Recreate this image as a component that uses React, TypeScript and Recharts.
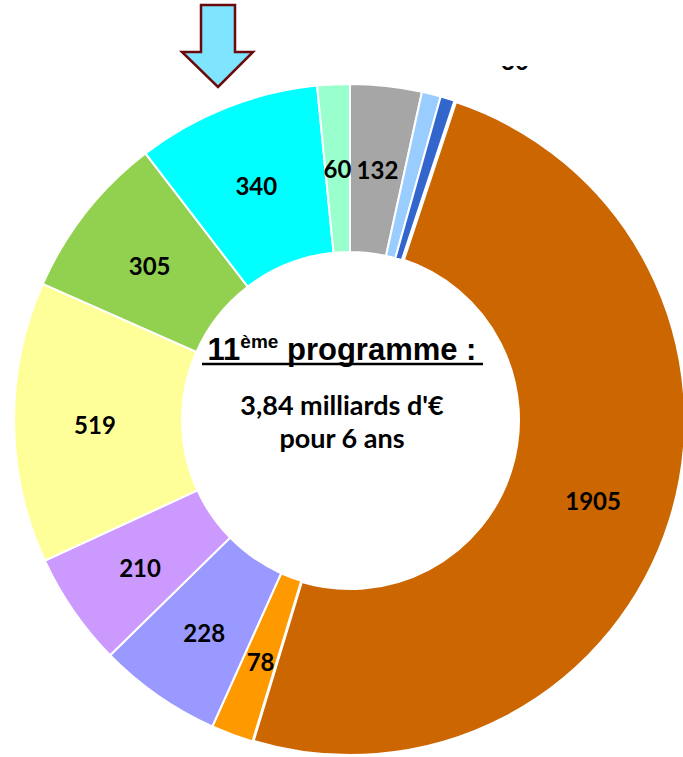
import React from "react";
import { Pie, PieChart, Cell } from "recharts";

const categories = [
  "gris",
  "bleu clair",
  "bleu",
  "marron",
  "orange",
  "pervenche",
  "lavande",
  "jaune",
  "vert",
  "cyan",
  "menthe",
];
const amounts = [132, 35, 28, 1905, 78, 228, 210, 519, 305, 340, 60];
const shownLabels = [true, false, false, true, true, true, true, true, true, true, true];
const colors = [
  "#a6a6a6",
  "#99ccff",
  "#3366cc",
  "#cc6600",
  "#ff9900",
  "#9999ff",
  "#cc99ff",
  "#ffff99",
  "#92d050",
  "#00ffff",
  "#99ffcc",
];

const data = categories.map((name, i) => ({ name, value: amounts[i] }));

const RAD = Math.PI / 180;

const SliceLabel = (props: any) => {
  const { cx, cy, midAngle, innerRadius, outerRadius, value, index } = props;
  if (!shownLabels[index]) return null;
  const r = (innerRadius + outerRadius) / 2 + 3;
  const x = cx + r * Math.cos(-midAngle * RAD);
  const y = cy + r * Math.sin(-midAngle * RAD) + 3;
  return (
    <text
      x={x}
      y={y}
      textAnchor="middle"
      dominantBaseline="central"
      fontFamily="Lato, 'Open Sans', sans-serif"
      fontWeight={700}
      fontSize={24}
      fill="#000"
    >
      {value}
    </text>
  );
};

export default function App() {
  return (
    <div
      style={{
        position: "fixed",
        left: 0,
        top: 0,
        width: 683,
        height: 757,
        overflow: "hidden",
        background: "#fff",
      }}
    >
      <PieChart width={683} height={757} margin={{ top: 0, right: 0, bottom: 0, left: 0 }}>
        <Pie
          data={data}
          dataKey="value"
          cx={350}
          cy={420}
          innerRadius={168}
          outerRadius={336}
          startAngle={90}
          endAngle={-270}
          stroke="#ffffff"
          strokeWidth={2}
          label={SliceLabel}
          labelLine={false}
          isAnimationActive={false}
        >
          {data.map((d, i) => (
            <Cell key={d.name} fill={colors[i]} strokeWidth={i === 3 ? 4 : 2} />
          ))}
        </Pie>
      </PieChart>
      <svg
        width={683}
        height={757}
        style={{ position: "absolute", left: 0, top: 0, pointerEvents: "none" }}
      >
        <defs>
          <clipPath id="cut">
            <rect x={490} y={66} width={50} height={10} />
          </clipPath>
        </defs>
        <text
          x={515}
          y={70}
          textAnchor="middle"
          fontFamily="Lato, 'Open Sans', sans-serif"
          fontWeight={700}
          fontSize={24}
          fill="#000"
          clipPath="url(#cut)"
        >
          30
        </text>
        <polygon
          points="201,5 235,5 235,52 253,52 218,87 182,52 201,52"
          fill="#7fe5ff"
          stroke="#6b0a0a"
          strokeWidth={2.5}
        />
        <text
          x={342}
          y={360}
          textAnchor="middle"
          fontFamily="'Liberation Sans', Arial, sans-serif"
          fontWeight={700}
          fontSize={31}
          fill="#000"
        >
          11
          <tspan fontSize={19} dy={-12}>
            ème
          </tspan>
          <tspan dy={12}> programme :</tspan>
        </text>
        <line x1={202} x2={483} y1={364} y2={364} stroke="#000" strokeWidth={2.5} />
        <text
          x={342}
          y={415}
          textAnchor="middle"
          fontFamily="Lato, 'Open Sans', sans-serif"
          fontWeight={700}
          fontSize={27}
          fill="#000"
        >
          3,84 milliards d'€
        </text>
        <text
          x={342}
          y={448}
          textAnchor="middle"
          fontFamily="Lato, 'Open Sans', sans-serif"
          fontWeight={700}
          fontSize={27}
          fill="#000"
        >
          pour 6 ans
        </text>
      </svg>
    </div>
  );
}
